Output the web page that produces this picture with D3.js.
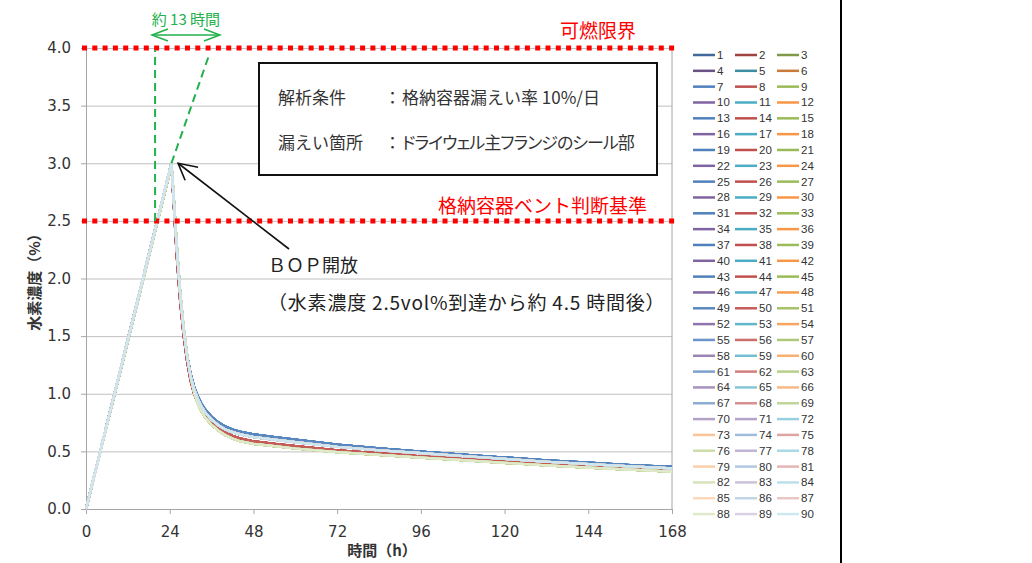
<!DOCTYPE html>
<html>
<head>
<meta charset="utf-8">
<script src="https://cdn.jsdelivr.net/npm/d3@7"></script>
<style>
  body { margin: 0; background: #fff; }
  svg { display: block; }
  .jp { font-family: "Noto Sans CJK JP", "Noto Sans", sans-serif; }
  .palt { font-feature-settings: "palt"; }
</style>
</head>
<body>
<script>
// time axis (hours) and y ticks
const xTicks = [0, 24, 48, 72, 96, 120, 144, 168];
const yTicks = [0, 0.5, 1.0, 1.5, 2.0, 2.5, 3.0, 3.5, 4.0];

// hydrogen concentration (%), 4 representative cases
const hours = [0, 24.5, 25, 26, 27, 28, 29, 30, 31, 32, 33, 34, 36, 38, 40, 42, 44, 48, 54, 60, 72, 84, 96, 108, 120, 132, 144, 156, 168];
const caseA = [0, 3.0, 2.75, 2.25, 1.85, 1.55, 1.33, 1.17, 1.06, 0.98, 0.92, 0.87, 0.80, 0.75, 0.715, 0.69, 0.672, 0.648, 0.625, 0.603, 0.558, 0.527, 0.497, 0.472, 0.447, 0.422, 0.402, 0.382, 0.366];
const caseB = [0, 3.0, 2.76, 2.27, 1.86, 1.55, 1.32, 1.15, 1.04, 0.96, 0.895, 0.845, 0.775, 0.725, 0.69, 0.667, 0.65, 0.625, 0.602, 0.58, 0.54, 0.51, 0.484, 0.46, 0.435, 0.41, 0.39, 0.37, 0.352];
const caseC = [0, 2.98, 2.72, 2.2, 1.8, 1.5, 1.28, 1.11, 1.0, 0.925, 0.865, 0.815, 0.745, 0.695, 0.66, 0.635, 0.614, 0.588, 0.566, 0.545, 0.51, 0.482, 0.456, 0.434, 0.41, 0.387, 0.367, 0.348, 0.332];
const caseD = [0, 2.98, 2.78, 2.3, 1.88, 1.57, 1.33, 1.14, 1.01, 0.92, 0.855, 0.80, 0.73, 0.68, 0.64, 0.612, 0.59, 0.565, 0.545, 0.525, 0.494, 0.469, 0.446, 0.424, 0.401, 0.379, 0.359, 0.341, 0.324];

// which case each of the 90 series follows (series 1..90)
const seriesCase = ("ACDBBB".repeat(9) + "BBDBBBBBDBBBBBDB" + "BBBBBDBBBBBDBBBBBDBB").split("");
const seriesNames = d3.range(1, 91).map(String);

const cases = {A: caseA, B: caseB, C: caseC, D: caseD};

// excel-like palette
const baseColors = ["#4F81BD", "#C0504D", "#9BBB59", "#8064A2", "#4BACC6", "#F79646"];
function seriesColor(i) { // i = 1..90
  const ci = i <= 70 ? (i - 1) % 6 : (i - 2) % 6;
  let c = baseColors[ci];
  if (i <= 6) return d3.interpolateRgb(c, "#000")(0.18);
  const t = Math.max(0, Math.min(1, (i - 45) / 45)) * 0.72;
  return d3.interpolateRgb(c, "#fff")(t);
}

const W = 1032, H = 563;
const svg = d3.select('body').append('svg').attr('width', W).attr('height', H);

const x = d3.scaleLinear().domain([0, 168]).range([86, 672]);
const y = d3.scaleLinear().domain([0, 4]).range([509, 48]);

// gridlines
svg.append('g').attr('id', 'grid')
  .attr('transform', `translate(${x(0)} 0)`)
  .call(d3.axisLeft(y).tickValues(yTicks).tickSize(-(x(168) - x(0))).tickFormat(''))
  .call(g => g.select('.domain').remove())
  .call(g => g.selectAll('line').attr('stroke', '#c0c0c0').attr('stroke-width', 1));

// right border of plot area
svg.append('line')
  .attr('x1', x(168)).attr('x2', x(168))
  .attr('y1', y(4)).attr('y2', y(0))
  .attr('stroke', '#a6a6a6').attr('stroke-width', 1);

// axes
const gy = svg.append('g')
  .attr('transform', `translate(${x(0)} 0)`)
  .call(d3.axisLeft(y).tickValues(yTicks).tickSize(5).tickPadding(10).tickFormat(d => d.toFixed(1)));
const gx = svg.append('g')
  .attr('transform', `translate(0 ${y(0)})`)
  .call(d3.axisBottom(x).tickValues(xTicks).tickSize(5).tickPadding(12));
[gy, gx].forEach(g => {
  g.select('.domain').attr('stroke', '#a6a6a6');
  g.selectAll('.tick line').attr('stroke', '#a6a6a6');
  g.selectAll('text').attr('font-size', 15).attr('fill', '#333').attr('font-family', '"DejaVu Sans", sans-serif');
});

// series lines
const line = d3.line()
  .x((d, i) => x(hours[i]))
  .y(d => y(d));

svg.append('g').attr('id', 'series')
  .selectAll('path')
  .data(seriesNames)
  .join('path')
    .attr('d', (d, i) => line(cases[seriesCase[i]]))
    .attr('fill', 'none')
    .attr('stroke', (d, i) => seriesColor(i + 1))
    .attr('stroke-width', 2.2)
    .attr('stroke-linejoin', 'round');

// red dotted limits
const redLines = [4.0, 2.5];
svg.append('g').selectAll('line')
  .data(redLines)
  .join('line')
    .attr('x1', x(0) - 4).attr('x2', x(168) + 5)
    .attr('y1', d => y(d)).attr('y2', d => y(d))
    .attr('stroke', '#ff0000').attr('stroke-width', 5)
    .attr('stroke-dasharray', '5,5.3');

svg.append('text').attr('class', 'jp')
  .attr('x', 636).attr('y', y(4) - 10)
  .attr('text-anchor', 'end').attr('font-size', 19).attr('fill', '#ff0000')
  .text('可燃限界');
svg.append('text').attr('class', 'jp')
  .attr('x', 647).attr('y', y(2.5) - 8)
  .attr('text-anchor', 'end').attr('font-size', 19).attr('fill', '#ff0000')
  .text('格納容器ベント判断基準');

// green annotation (about 13 hours)
const green = '#22b14c';
const ga = svg.append('g').attr('stroke', green).attr('stroke-width', 2).attr('fill', 'none');
ga.append('line')
  .attr('x1', x(19.8)).attr('x2', x(19.8))
  .attr('y1', y(2.5)).attr('y2', y(3.98))
  .attr('stroke-dasharray', '8,5');
ga.append('line')
  .attr('x1', x(24.5)).attr('x2', x(35.3))
  .attr('y1', y(3.0)).attr('y2', y(3.94))
  .attr('stroke-dasharray', '8,5');
const ay = 35, ax1 = x(18.9), ax2 = x(38.4);
ga.append('line').attr('x1', ax1).attr('x2', ax2).attr('y1', ay).attr('y2', ay).attr('stroke-width', 1.5);
ga.append('path').attr('stroke-width', 1.5)
  .attr('d', `M${ax1 + 16},${ay - 6}L${ax1},${ay}L${ax1 + 16},${ay + 6}M${ax2 - 16},${ay - 6}L${ax2},${ay}L${ax2 - 16},${ay + 6}`);
svg.append('text').attr('class', 'jp')
  .attr('x', (ax1 + ax2) / 2).attr('y', 25)
  .attr('text-anchor', 'middle').attr('font-size', 15).attr('fill', green)
  .text('約 13 時間');

// conditions box
const box = svg.append('g');
box.append('rect')
  .attr('x', 259).attr('y', 63).attr('width', 398).attr('height', 112)
  .attr('fill', '#fff').attr('stroke', '#111').attr('stroke-width', 2);
const boxRows = [
  ['解析条件', '格納容器漏えい率 10%/日', '', 0],
  ['漏えい箇所', 'ドライウェル主フランジのシール部', 'palt', -1]
];
boxRows.forEach((r, i) => {
  const yy = 104 + i * 45;
  box.append('text').attr('class', 'jp')
    .attr('x', 278).attr('y', yy)
    .attr('font-size', 17).attr('fill', '#333').text(r[0]);
  box.append('text').attr('class', 'jp')
    .attr('x', 384).attr('y', yy)
    .attr('font-size', 17).attr('fill', '#333').text('：');
  box.append('text').attr('class', 'jp ' + r[2])
    .attr('x', 402).attr('y', yy)
    .attr('letter-spacing', r[3])
    .attr('font-size', 17).attr('fill', '#333').text(r[1]);
});

// BOP arrow and notes
svg.append('line')
  .attr('x1', x(58.2)).attr('y1', y(2.256))
  .attr('x2', x(26.4)).attr('y2', y(3.0))
  .attr('stroke', '#111').attr('stroke-width', 1.6);
svg.append('path')
  .attr('d', `M${x(26.4) + 20},${y(3.0) + 4}L${x(26.4)},${y(3.0)}L${x(26.4) + 7},${y(3.0) + 17}`)
  .attr('fill', 'none').attr('stroke', '#111').attr('stroke-width', 1.6);

svg.append('text').attr('class', 'jp')
  .attr('x', 268).attr('y', 272)
  .attr('font-size', 18).attr('fill', '#222')
  .text('ＢＯＰ開放');
svg.append('text').attr('class', 'jp')
  .attr('x', 268).attr('y', 310)
  .attr('font-size', 19).attr('letter-spacing', 0.8).attr('fill', '#222')
  .text('（水素濃度 2.5vol%到達から約 4.5 時間後）');

// axis titles
svg.append('text').attr('class', 'jp')
  .attr('transform', `translate(40 ${y(2)}) rotate(-90)`)
  .attr('text-anchor', 'middle').attr('font-size', 15).attr('font-weight', 'bold').attr('fill', '#333')
  .text('水素濃度（%）');
svg.append('text').attr('class', 'jp')
  .attr('x', 382).attr('y', 556)
  .attr('text-anchor', 'middle').attr('font-size', 15).attr('font-weight', 'bold').attr('fill', '#333')
  .text('時間（h）');

// legend, 3 columns
const legend = svg.append('g').attr('id', 'legend');
const colX = [693, 735, 777];
const item = legend.selectAll('g')
  .data(seriesNames)
  .join('g')
    .attr('transform', (d, i) => `translate(${colX[i % 3]} ${55 + Math.floor(i / 3) * 15.83})`);
item.append('line')
  .attr('x1', 0).attr('x2', 22).attr('y1', 0).attr('y2', 0)
  .attr('stroke', (d, i) => seriesColor(i + 1)).attr('stroke-width', 2.5);
item.append('text')
  .attr('x', 24).attr('y', 4)
  .attr('font-size', 11.5).attr('fill', '#333')
  .attr('font-family', '"Liberation Sans", sans-serif')
  .text(d => d);

// separator on the right
svg.append('line')
  .attr('x1', 841).attr('x2', 841).attr('y1', 0).attr('y2', H)
  .attr('stroke', '#000').attr('stroke-width', 2);
</script>
</body>
</html>
